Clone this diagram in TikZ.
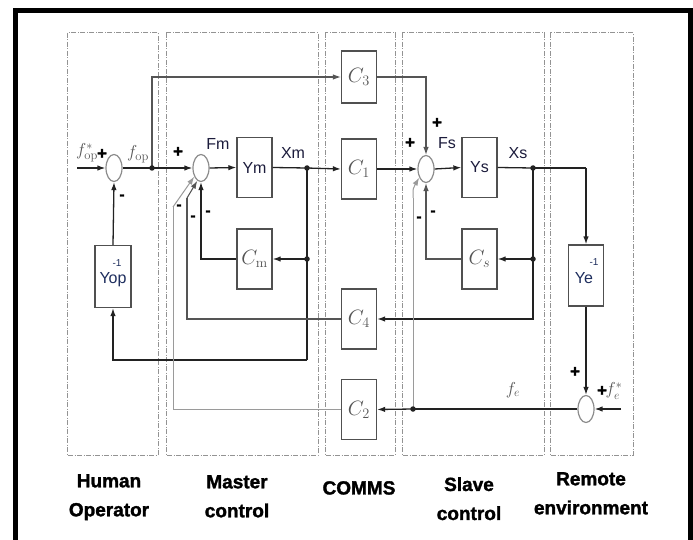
\documentclass[tikz,border=0pt]{standalone}
\usepackage{fontspec}
\usetikzlibrary{arrows.meta,shapes.geometric}
\newfontfamily\arialf{Liberation Sans}
\newfontfamily\heavyf[FakeBold=1.6]{Liberation Sans}
\definecolor{dk}{HTML}{222222}
\definecolor{md}{HTML}{555555}
\definecolor{lt}{HTML}{9A9A9A}
\definecolor{boxc}{HTML}{505050}
\definecolor{navy}{HTML}{1C1C3C}
\definecolor{bluet}{HTML}{1E2E5E}
\tikzset{
  region/.style={draw=gray!85, line width=1pt, dash pattern=on 5pt off 1.5pt on 1pt off 1.5pt},
  blk/.style={draw=boxc, line width=1.3pt, minimum width=35pt, minimum height=60pt, inner sep=0pt, fill=white},
  cblk/.style={blk, text=md, font=\fontsize{20}{24}\selectfont},
  ablk/.style={blk, text=navy, font=\arialf\fontsize{16}{18}\selectfont},
  sumn/.style={draw=gray!90, ellipse, minimum width=16pt, minimum height=27pt, inner sep=0pt, line width=1.2pt, fill=white},
  dot/.style={circle, fill=dk, inner sep=0pt, minimum size=5.5pt},
  lnd/.style={draw=dk, line width=1.3pt},
  lnm/.style={draw=md, line width=1.1pt},
  lnl/.style={draw=lt, line width=1pt},
  ad/.style={lnd, -{Latex[length=8pt,width=5.5pt]}},
  am/.style={lnm, -{Latex[length=8pt,width=5.5pt]}},
  al/.style={lnl, -{Latex[length=8pt,width=5.5pt]}},
  plus/.style={font=\heavyf\bfseries\fontsize{17}{17}\selectfont, text=black, inner sep=0pt},
  minus/.style={font=\heavyf\bfseries\fontsize{15}{15}\selectfont, text=black, inner sep=0pt},
  sig/.style={font=\arialf\fontsize{16}{18}\selectfont, text=navy, inner sep=0pt},
  mlab/.style={font=\fontsize{18}{20}\selectfont, text=md, inner sep=0pt},
  bot/.style={font=\heavyf\bfseries\fontsize{19}{29}\selectfont, align=center, anchor=north, inner sep=0pt},
}
\begin{document}
\begin{tikzpicture}[x=1pt,y=-1pt]
\useasboundingbox (0,0) rectangle (693,540);
\fill[white] (0,0) rectangle (693,540);
\draw[line width=5pt] (15,545) -- (15,10.5) -- (690.5,10.5) -- (690.5,545);
% regions
\draw[region] (67,33) rectangle (158,455);
\draw[region] (166,33) rectangle (318,455);
\draw[region] (325,33) rectangle (395,455);
\draw[region] (402,33) rectangle (544,455);
\draw[region] (550,33) rectangle (633,455);
% junction coordinates
\coordinate (jfop) at (152,168);
\coordinate (jxm) at (307,168);
\coordinate (jxm2) at (307,259);
\coordinate (jxs) at (533,168);
\coordinate (jxs2) at (533,259);
\coordinate (jfe) at (413,409);
\coordinate (in1) at (77,168);
\coordinate (in2) at (621,409);
\coordinate (bxm) at (307,360);
\coordinate (b2) at (173,207);
\coordinate (b4) at (187,198);
\coordinate (bfe) at (413,198);
\coordinate (bye) at (586,168);
% blocks
\node[cblk, minimum height=52pt] (c3) at (359,77) {$C_3$};
\node[cblk] (c1) at (359,169) {$C_1$};
\node[cblk] (c4) at (359,319) {$C_4$};
\node[cblk] (c2) at (359,409.5) {$C_2$};
\node[ablk] (ym) at (254.5,167.5) {Ym};
\node[cblk] (cm) at (254.5,259) {$C_{\rm m}$};
\node[ablk] (ys) at (479.5,167.5) {Ys};
\node[cblk] (cs) at (479.5,259) {$C_s$};
\node[blk, minimum width=36pt, minimum height=62pt] (yop) at (113,276.5) {};
\node[blk, minimum height=61pt] (ye) at (586,275.5) {};
\node[font=\arialf\fontsize{16}{18}\selectfont, text=bluet, inner sep=0pt] (yoptxt) at (113,280) {Yop};
\node[font=\arialf\fontsize{10}{10}\selectfont, text=bluet, inner sep=0pt] (yopexp) at (117,263) {-1};
\node[font=\arialf\fontsize{16}{18}\selectfont, text=bluet, inner sep=0pt] (yetxt) at (584,278) {Ye};
\node[font=\arialf\fontsize{10}{10}\selectfont, text=bluet, inner sep=0pt] (yeexp) at (594,262) {-1};
% sums
\node[sumn] (s1) at (114,168) {};
\node[sumn] (sm) at (201,168) {};
\node[sumn] (ss) at (426,169) {};
\node[sumn] (se) at (586,409) {};
% connectors
\draw[ad] (in1) -- (s1.west);
\draw[lnd] (s1.east) -- (jfop);
\draw[ad] (jfop) -- (sm.west);
\draw[am] (jfop) |- (c3.west);
\draw[ad] (sm.east) -- (ym.west);
\draw[lnd] (ym.east) -- (jxm);
\draw[ad] (jxm) -- (c1.west);
\draw[lnd] (jxm) -- (jxm2);
\draw[ad] (jxm2) -- (cm.east);
\draw[lnd] (jxm2) -- (bxm);
\draw[ad] (bxm) -| (yop.south);
\draw[ad] (yop.north) -- (s1.south);
\draw[ad] (cm.west) -| (sm.south);
\draw[lnm] (c4.west) -| (b4);
\draw[am] (b4) -- (sm.-106);
\draw[lnl] (c2.west) -| (b2);
\draw[al] (b2) -- (sm.-128);
\draw[am] (c3.east) -| (ss.north);
\draw[ad] (c1.east) -- (ss.west);
\draw[ad] (ss.east) -- (ys.west);
\draw[lnd] (ys.east) -- (jxs);
\draw[lnd] (jxs) -- (bye);
\draw[ad] (bye) -- (ye.north);
\draw[lnd] (jxs) -- (jxs2);
\draw[ad] (jxs2) -- (cs.east);
\draw[ad] (jxs2) |- (c4.east);
\draw[am] (cs.west) -| (ss.south);
\draw[ad] (ye.south) -- (se.north);
\draw[ad] (in2) -- (se.east);
\draw[lnd] (se.west) -- (jfe);
\draw[ad] (jfe) -- (c2.east);
\draw[lnl] (jfe) -- (bfe);
\draw[al] (bfe) .. controls (413,188) .. (ss.-128);
% junction dots
\node[dot] (dfop) at (jfop) {};
\node[dot] (dxm) at (jxm) {};
\node[dot] (dxm2) at (jxm2) {};
\node[dot] (dxs) at (jxs) {};
\node[dot] (dxs2) at (jxs2) {};
\node[dot] (dfe) at (jfe) {};
% signal labels
\node[mlab] (lfops) at (87,153) {$f_{\rm op}^{*}$};
\node[mlab] (lfop) at (138,154) {$f_{\rm op}$};
\node[mlab] (lfe) at (513,390) {$f_e$};
\node[mlab] (lfes) at (614,391) {$f_e^{*}$};
\node[sig] (lfm) at (218,144) {Fm};
\node[sig] (lxm) at (293,153) {Xm};
\node[sig] (lfs) at (447,143) {Fs};
\node[sig] (lxs) at (518,153) {Xs};
% signs
\node[plus] (p1) at (102,154) {+};
\node[plus] (p2) at (178,152) {+};
\node[plus] (p3) at (410,143) {+};
\node[plus] (p4) at (437,123) {+};
\node[plus] (p5) at (575,372) {+};
\node[plus] (p6) at (602,391) {+};
\node[minus] (m1) at (122,197) {-};
\node[minus] (m2) at (179,207) {-};
\node[minus] (m3) at (193,218) {-};
\node[minus] (m4) at (208,213) {-};
\node[minus] (m5) at (419,219) {-};
\node[minus] (m6) at (433,213) {-};
% bottom labels
\node[bot] (lho) at (109,474) {Human\\Operator};
\node[bot] (lmc) at (237,475) {Master\\control};
\node[bot] (lco) at (359,481) {COMMS};
\node[bot] (lsc) at (469,477) {Slave\\control};
\node[bot] (lre) at (591,472) {Remote\\environment};
\end{tikzpicture}
\end{document}
